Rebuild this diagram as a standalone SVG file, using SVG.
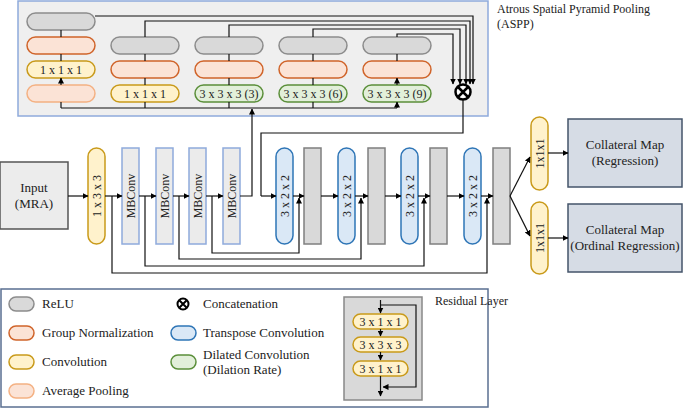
<svg xmlns="http://www.w3.org/2000/svg" width="685" height="408" viewBox="0 0 685 408">
<defs>
<marker id="a" viewBox="0 0 6 6" refX="5.5" refY="3" markerWidth="5" markerHeight="5" orient="auto"><path d="M0,0L6,3L0,6z" fill="#000"/></marker>
<style>
text{font-family:"Liberation Serif",serif;font-size:12px;fill:#222}
.l{font-size:13px}
.c{text-anchor:middle}
.ln{fill:none;stroke:#111;stroke-width:1.2}
.ar{fill:none;stroke:#111;stroke-width:1.2;marker-end:url(#a)}
.relu{fill:#d9d9d9;stroke:#8c8c8c;stroke-width:1.5}
.gn{fill:#fbe3d6;stroke:#d0642a;stroke-width:1.5}
.cv{fill:#fff2cc;stroke:#c99a1a;stroke-width:1.5}
.ap{fill:#fbe3d6;stroke:#f4b183;stroke-width:1.5}
.dc{fill:#e2efda;stroke:#5b8f3a;stroke-width:1.5}
.tc{fill:#dae8f6;stroke:#2e75b6;stroke-width:1.5}
.mb{fill:#ebebeb;stroke:#8faadc;stroke-width:1.5}
.gr{fill:#d9d9d9;stroke:#7f7f7f;stroke-width:1.5}
.cm{fill:#d6dce5;stroke:#44546a;stroke-width:1.5}
</style>
</defs>
<g id="aspp">
<rect x="18" y="1" width="470" height="115" fill="#efefef" stroke="#8faadc" stroke-width="1.5"/>
<text x="497" y="13">Atrous Spatial Pyramid Pooling</text>
<text x="497" y="28">(ASPP)</text>
<rect class="relu" x="27" y="13" width="68" height="17" rx="8.5"/>
<rect class="gn" x="27" y="37" width="68" height="17" rx="8.5"/>
<rect class="cv" x="27" y="61" width="68" height="17" rx="8.5"/><text class="c" x="61" y="74">1 x 1 x 1</text>
<rect class="ap" x="27" y="85" width="68" height="17" rx="8.5"/>
<rect class="relu" x="111" y="37" width="68" height="17" rx="8.5"/>
<rect class="gn" x="111" y="61" width="68" height="17" rx="8.5"/>
<rect class="cv" x="111" y="85" width="68" height="17" rx="8.5"/><text class="c" x="145" y="98">1 x 1 x 1</text>
<rect class="relu" x="195" y="37" width="68" height="17" rx="8.5"/>
<rect class="gn" x="195" y="61" width="68" height="17" rx="8.5"/>
<rect class="dc" x="195" y="85" width="68" height="17" rx="8.5"/><text class="c" x="229" y="98">3 x 3 x 3 (3)</text>
<rect class="relu" x="279" y="37" width="68" height="17" rx="8.5"/>
<rect class="gn" x="279" y="61" width="68" height="17" rx="8.5"/>
<rect class="dc" x="279" y="85" width="68" height="17" rx="8.5"/><text class="c" x="313" y="98">3 x 3 x 3 (6)</text>
<rect class="relu" x="363" y="37" width="68" height="17" rx="8.5"/>
<rect class="gn" x="363" y="61" width="68" height="17" rx="8.5"/>
<rect class="dc" x="363" y="85" width="68" height="17" rx="8.5"/><text class="c" x="397" y="98">3 x 3 x 3 (9)</text>
<circle cx="463" cy="92" r="7.5" fill="#fff" stroke="#000" stroke-width="2.5"/>
<path d="M458,87L468,97M468,87L458,97" stroke="#000" stroke-width="2.5"/>
</g>
<g id="input"><rect x="0" y="162" width="68" height="67" fill="#ececec" stroke="#555" stroke-width="1.5"/><text class="c l" x="34" y="192">Input</text><text class="c l" x="34" y="208">(MRA)</text></g>
<g id="conv0"><rect class="cv" x="88" y="148" width="17" height="96" rx="8.5"/><text class="c" transform="translate(100.5,196) rotate(-90)">1 x 3 x 3</text></g>
<g id="mb1"><rect class="mb" x="122" y="148" width="17" height="96"/><text class="c" transform="translate(135,196) rotate(-90)">MBConv</text></g>
<g id="mb2"><rect class="mb" x="156" y="148" width="17" height="96"/><text class="c" transform="translate(169,196) rotate(-90)">MBConv</text></g>
<g id="mb3"><rect class="mb" x="189" y="148" width="17" height="96"/><text class="c" transform="translate(202,196) rotate(-90)">MBConv</text></g>
<g id="mb4"><rect class="mb" x="223" y="148" width="17" height="96"/><text class="c" transform="translate(236,196) rotate(-90)">MBConv</text></g>
<g id="t1"><rect class="tc" x="276" y="148" width="17" height="96" rx="8.5"/><text class="c" transform="translate(288.5,196) rotate(-90)">3 x 2 x 2</text></g>
<g id="g1"><rect class="gr" x="304" y="148" width="17" height="96"/></g>
<g id="t2"><rect class="tc" x="338" y="148" width="17" height="96" rx="8.5"/><text class="c" transform="translate(350.5,196) rotate(-90)">3 x 2 x 2</text></g>
<g id="g2"><rect class="gr" x="368" y="148" width="17" height="96"/></g>
<g id="t3"><rect class="tc" x="401" y="148" width="17" height="96" rx="8.5"/><text class="c" transform="translate(413.5,196) rotate(-90)">3 x 2 x 2</text></g>
<g id="g3"><rect class="gr" x="430" y="148" width="17" height="96"/></g>
<g id="t4"><rect class="tc" x="464" y="148" width="17" height="96" rx="8.5"/><text class="c" transform="translate(476.5,196) rotate(-90)">3 x 2 x 2</text></g>
<g id="g4"><rect class="gr" x="493" y="148" width="17" height="96"/></g>
<g id="o1"><rect class="cv" x="531" y="117" width="17" height="73" rx="8.5"/><text class="c" transform="translate(543.5,153.5) rotate(-90)">1x1x1</text></g>
<g id="o2"><rect class="cv" x="531" y="202" width="17" height="72" rx="8.5"/><text class="c" transform="translate(543.5,238) rotate(-90)">1x1x1</text></g>
<g id="cm1"><rect class="cm" x="568" y="119" width="114" height="68"/><text class="c l" x="625" y="149">Collateral Map</text><text class="c l" x="625" y="165">(Regression)</text></g>
<g id="cm2"><rect class="cm" x="568" y="204" width="114" height="68"/><text class="c l" x="625" y="234">Collateral Map</text><text class="c l" x="625" y="250">(Ordinal Regression)</text></g>
<g id="connectors">
<path class="ar" d="M61,37V30M61,61V54M61,85V78"/>
<path class="ar" d="M145,61V54M145,85V78M229,61V54M229,85V78M313,61V54M313,85V78M397,61V54M397,85V78"/>
<path class="ln" d="M61,108H397"/>
<path class="ar" d="M61,108V102M145,108V102M229,108V102M313,108V102M397,108V102"/>
<path class="ar" d="M95,16H473V84"/>
<path class="ar" d="M145,37V21H470V84"/>
<path class="ar" d="M229,37V25H466V84"/>
<path class="ar" d="M313,37V29H460V84"/>
<path class="ar" d="M397,37V34H453V84"/>
<path class="ln" d="M463,100V133H261V196"/>
<path class="ar" d="M261,196H276"/>
<path class="ar" d="M240,196H252V109"/>
<path class="ar" d="M68,196H88"/>
<path class="ar" d="M105,196H122"/>
<path class="ar" d="M139,196H156"/>
<path class="ar" d="M173,196H189"/>
<path class="ar" d="M206,196H223"/>
<path class="ar" d="M293,196H304"/><path class="ar" d="M321,196H338"/>
<path class="ar" d="M355,196H368"/><path class="ar" d="M385,196H401"/>
<path class="ar" d="M418,196H430"/><path class="ar" d="M447,196H464"/>
<path class="ar" d="M481,196H493"/>
<path class="ar" d="M212,196V253H299V198"/>
<path class="ar" d="M179,196V259H361V198"/>
<path class="ar" d="M145,196V266H424V198"/>
<path class="ar" d="M112,196V273H487V198"/>
<path class="ar" d="M510,196L530,157"/>
<path class="ar" d="M510,196L530,236"/>
<path class="ar" d="M548,153H568"/>
<path class="ar" d="M548,238H568"/>
</g>
<g id="legend">
<rect x="1" y="289" width="487" height="118" fill="#fff" stroke="#5a6f91" stroke-width="1.5"/>
<rect class="relu" x="9" y="297" width="25" height="14" rx="7"/><text class="l" x="42" y="308">ReLU</text>
<rect class="gn" x="9" y="326" width="25" height="14" rx="7"/><text class="l" x="42" y="337">Group Normalization</text>
<rect class="cv" x="9" y="355" width="25" height="14" rx="7"/><text class="l" x="42" y="366">Convolution</text>
<rect class="ap" x="9" y="384" width="25" height="14" rx="7"/><text class="l" x="42" y="395">Average Pooling</text>
<circle cx="183" cy="304" r="5.5" fill="#fff" stroke="#000" stroke-width="2"/>
<path d="M179.5,300.5L186.5,307.5M186.5,300.5L179.5,307.5" stroke="#000" stroke-width="2"/>
<text class="l" x="203" y="308">Concatenation</text>
<rect class="tc" x="171" y="326" width="25" height="14" rx="7"/><text class="l" x="203" y="337">Transpose Convolution</text>
<rect class="dc" x="171" y="355" width="25" height="14" rx="7"/><text class="l" x="203" y="359">Dilated Convolution</text><text class="l" x="203" y="374">(Dilation Rate)</text>
<rect x="344" y="297" width="78" height="103" fill="#d9d9d9" stroke="#888" stroke-width="1.5"/>
<text x="435" y="305">Residual Layer</text>
<rect class="cv" x="353" y="314" width="55" height="15" rx="7.5"/><text class="c" x="380.5" y="326">3 x 1 x 1</text>
<rect class="cv" x="353" y="337" width="55" height="15" rx="7.5"/><text class="c" x="380.5" y="349">3 x 3 x 3</text>
<rect class="cv" x="353" y="361" width="55" height="15" rx="7.5"/><text class="c" x="380.5" y="373">3 x 1 x 1</text>
<path class="ar" d="M380.5,300V313"/>
<path class="ar" d="M380.5,329V336"/><path class="ar" d="M380.5,352V360"/>
<path class="ar" d="M380.5,376V396"/>
<path class="ar" d="M381,305H416V387H383"/>
</g>
</svg>
